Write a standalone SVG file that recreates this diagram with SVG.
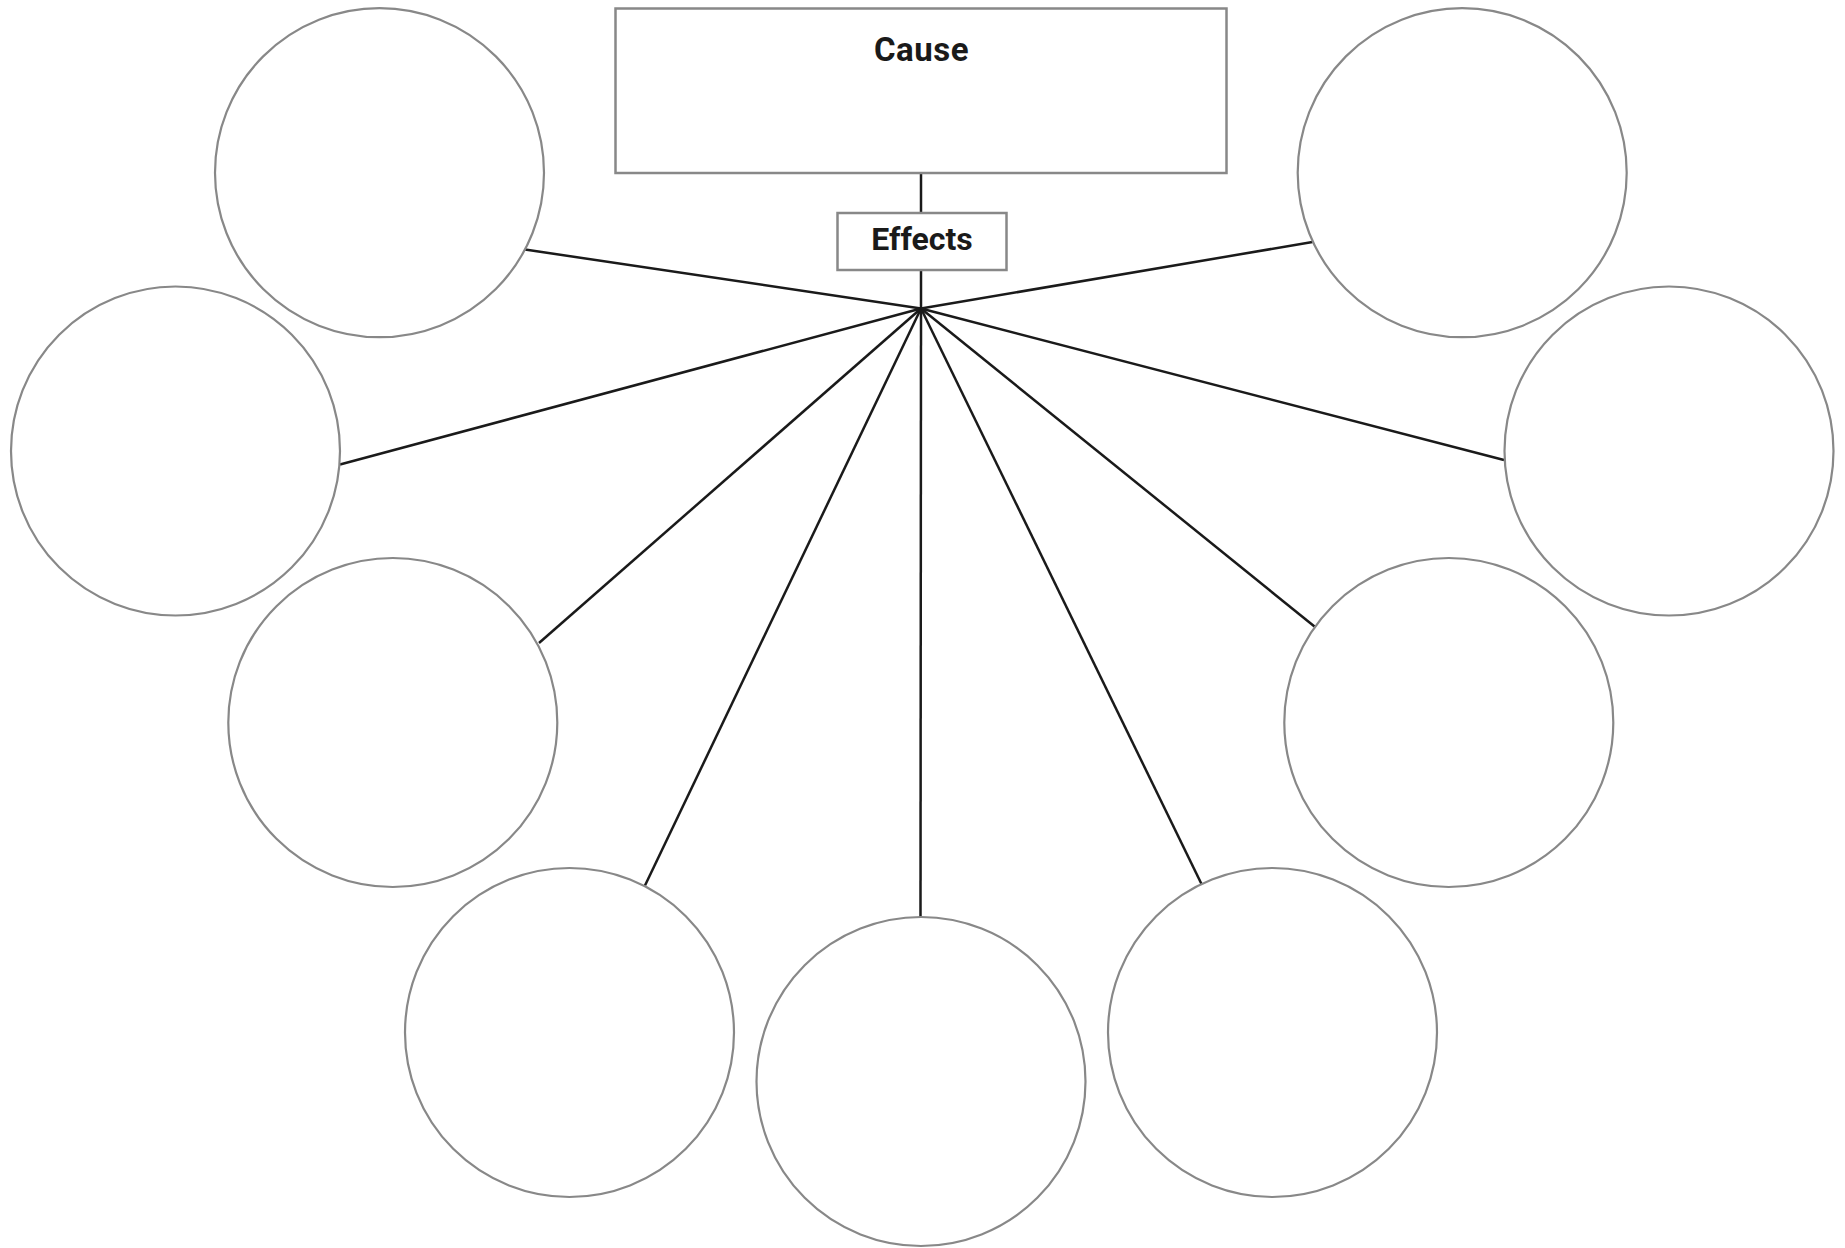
<svg xmlns="http://www.w3.org/2000/svg" width="1845" height="1248" viewBox="0 0 1845 1248">
<style>
.box{fill:#fff;stroke:#888;stroke-width:2.5}
.bubble{fill:#fff;stroke:#888;stroke-width:2.2}
.conn line{stroke:#1a1a1a;stroke-width:2.5;stroke-linecap:butt}
.label{font-family:Roboto,"Liberation Sans",Arial,sans-serif;font-weight:bold;font-size:32px;fill:#1a1a1a;text-anchor:middle}
</style>
<rect width="1845" height="1248" fill="#fff"/>
<g id="connectors" class="conn">
<line x1="921" y1="173" x2="921" y2="213"/>
<line x1="921" y1="270" x2="921" y2="308.5"/>
<line x1="921" y1="308.5" x2="525" y2="249.5"/>
<line x1="921" y1="308.5" x2="340" y2="464.5"/>
<line x1="921" y1="308.5" x2="539" y2="643"/>
<line x1="921" y1="308.5" x2="645" y2="885.5"/>
<line x1="921" y1="308.5" x2="920.5" y2="917"/>
<line x1="921" y1="308.5" x2="1201.5" y2="884"/>
<line x1="921" y1="308.5" x2="1314.5" y2="626.5"/>
<line x1="921" y1="308.5" x2="1504" y2="460"/>
<line x1="921" y1="308.5" x2="1312.5" y2="242"/>
</g>
<g id="cause">
<rect class="box" x="615.5" y="8.5" width="611" height="164.5"/>
<text class="label" x="921.5" y="61" style="font-size:33px;letter-spacing:0.5px">Cause</text>
</g>
<g id="effects">
<rect class="box" x="837.5" y="213" width="169" height="57"/>
<text class="label" x="922" y="250">Effects</text>
</g>
<g id="effect1"><circle class="bubble" cx="379.5" cy="172.7" r="164.5"/></g>
<g id="effect2"><circle class="bubble" cx="175.5" cy="451" r="164.5"/></g>
<g id="effect3"><circle class="bubble" cx="392.8" cy="722.5" r="164.5"/></g>
<g id="effect4"><circle class="bubble" cx="569.5" cy="1032.5" r="164.5"/></g>
<g id="effect5"><circle class="bubble" cx="921" cy="1081.5" r="164.5"/></g>
<g id="effect6"><circle class="bubble" cx="1272.5" cy="1032.5" r="164.5"/></g>
<g id="effect7"><circle class="bubble" cx="1448.8" cy="722.5" r="164.5"/></g>
<g id="effect8"><circle class="bubble" cx="1669" cy="451" r="164.5"/></g>
<g id="effect9"><circle class="bubble" cx="1462.2" cy="172.7" r="164.5"/></g>
</svg>
